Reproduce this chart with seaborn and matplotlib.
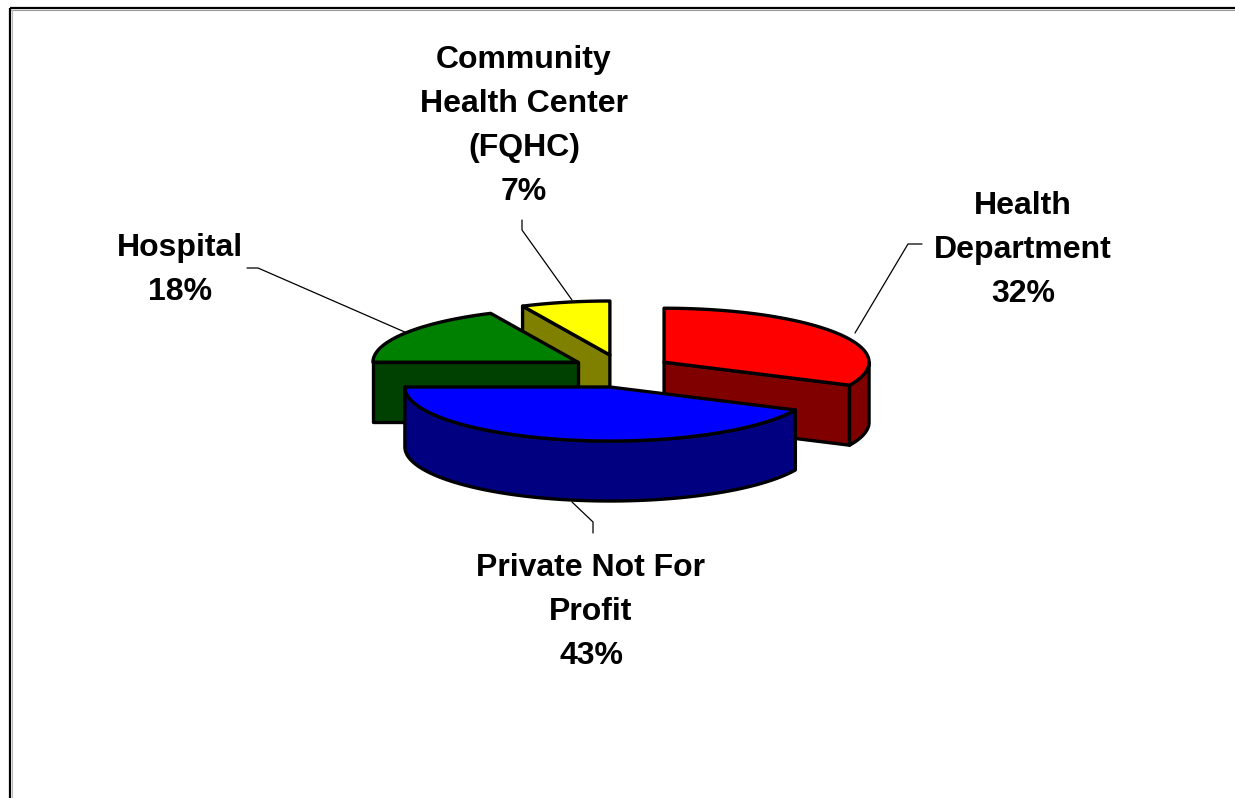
import numpy as np
import matplotlib
matplotlib.use("Agg")
import matplotlib.pyplot as plt
from matplotlib.patches import Polygon
import seaborn as sns

# ---- data ----
categories = ["Health\nDepartment", "Private Not For\nProfit", "Hospital",
              "Community\nHealth Center\n(FQHC)"]
shares = [32, 43, 18, 7]

# ---- style ----
top_colors = ["#FF0000", "#0000FF", "#008000", "#FFFF00"]
side_colors = ["#800000", "#000080", "#004000", "#808000"]

sns.set_theme(style="white")
plt.rcParams['font.family'] = ['Liberation Sans', 'DejaVu Sans']

fig = plt.figure(figsize=(12.35, 7.98), dpi=100)
ax = fig.add_axes([0, 0, 1, 1])
ax.set_xlim(0, 1235)
ax.set_ylim(798, 0)
ax.axis('off')

# chart frame (runs off the right and bottom edges)
ax.plot([10, 1240], [8, 8], color="black", lw=1.6, solid_capstyle="butt", zorder=1)
ax.plot([10, 10], [8, 800], color="black", lw=1.6, solid_capstyle="butt", zorder=1)
ax.plot([11, 1240], [10, 10], color="#999999", lw=0.8, zorder=1)
ax.plot([12, 12], [10, 800], color="#bbbbbb", lw=0.8, zorder=1)

# ---- 3D pie geometry ----
CX, CY = 621, 371
RX, RY = 205, 54
DEPTH = 60
EX, EY = 51, 16.4
LW = 2.4

total = float(sum(shares))


def rim(ox, oy, ang):
    a = np.radians(ang)
    return ox + RX * np.cos(a), oy - RY * np.sin(a)


slices = []
start = 90.0
for i, v in enumerate(shares):
    hi = start
    lo = start - 360.0 * v / total
    mid = np.radians((hi + lo) / 2)
    ox = CX + EX * np.cos(mid)
    oy = CY - EY * np.sin(mid)
    slices.append((i, hi, lo, ox, oy))
    start = lo

order = sorted(slices, key=lambda s: s[4])
for rank, (i, hi, lo, ox, oy) in enumerate(order):
    z = 3 + rank * 3
    # cut faces
    faces = []
    if np.cos(np.radians(lo)) > 1e-6:
        faces.append(lo)
    if np.cos(np.radians(hi)) < -1e-6:
        faces.append(hi)
    for th in faces:
        rx_, ry_ = rim(ox, oy, th)
        quad = [(ox, oy), (rx_, ry_), (rx_, ry_ + DEPTH), (ox, oy + DEPTH)]
        ax.add_patch(Polygon(quad, closed=True, facecolor=side_colors[i],
                             edgecolor="black", lw=LW, joinstyle="round", zorder=z))
    # curved outer wall (front half only)
    a0, a1 = max(lo, -180.0), min(hi, 0.0)
    if a1 > a0:
        angs = np.linspace(a0, a1, 120)
        xs, ys = rim(ox, oy, angs)
        pts = list(zip(xs, ys)) + list(zip(xs[::-1], ys[::-1] + DEPTH))
        ax.add_patch(Polygon(pts, closed=True, facecolor=side_colors[i],
                             edgecolor="black", lw=LW, joinstyle="round", zorder=z + 1))
    # top
    angs = np.linspace(hi, lo, 160)
    xs, ys = rim(ox, oy, angs)
    pts = [(ox, oy)] + list(zip(xs, ys))
    ax.add_patch(Polygon(pts, closed=True, facecolor=top_colors[i],
                         edgecolor="black", lw=LW, joinstyle="round", zorder=z + 2))

# ---- labels ----
label_pos = [(1023, 203), (591, 565), (180, 245), (524, 57)]
LINE_STEP = 44
FS = 23
CAP_HALF = FS * 100 / 72 * 0.716 / 2

leaders = [
    [(922, 244), (908, 244), (855, 333)],
    [(593, 533), (593, 522), (572, 502)],
    [(247, 268), (258, 268), (407, 333)],
    [(522, 220), (522, 230), (572, 300)],
]

for i, (name, v) in enumerate(zip(categories, shares)):
    lines = name.split("\n") + [f"{v}%"]
    x0, y0 = label_pos[i]
    for k, line in enumerate(lines):
        ax.text(x0, y0 + k * LINE_STEP + CAP_HALF, line, ha="center", va="baseline",
                fontsize=FS, fontweight="bold", color="black", zorder=30)
    lx, ly = zip(*leaders[i])
    ax.plot(lx, ly, color="black", lw=0.9, zorder=25)

fig.savefig("out.png", dpi=100, facecolor="white")
